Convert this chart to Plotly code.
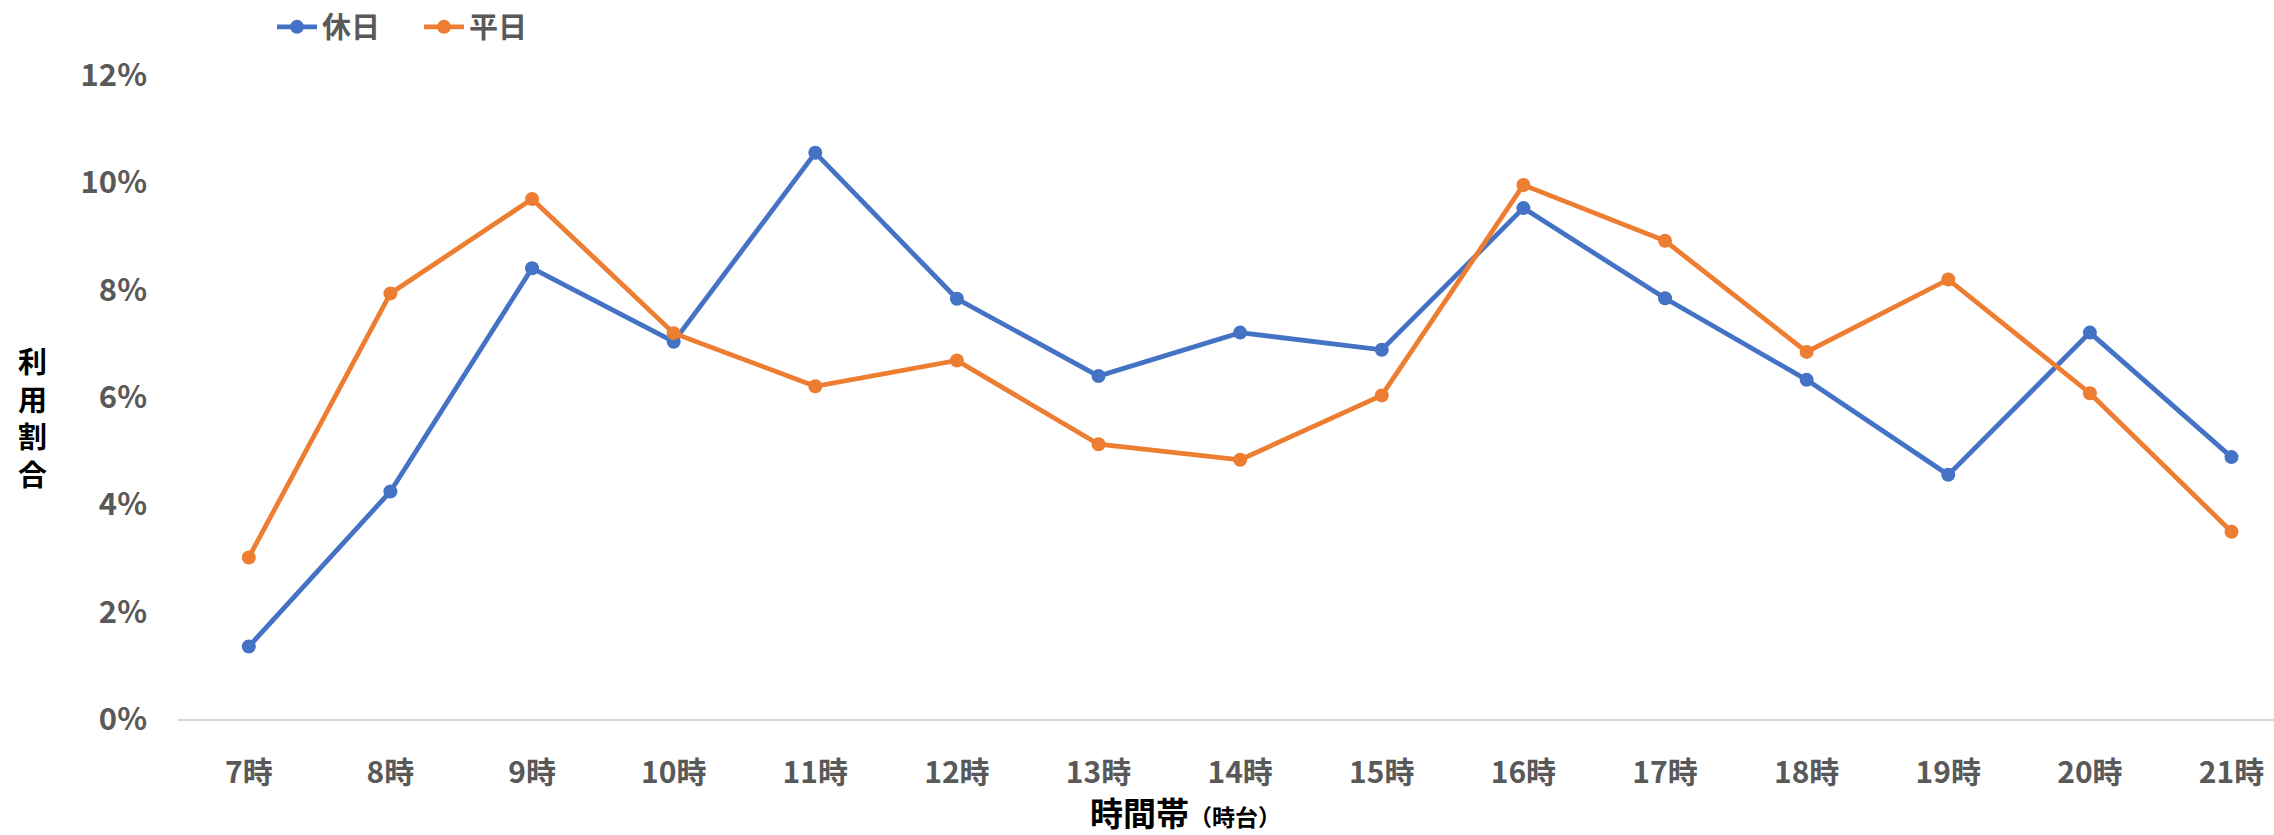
import plotly.graph_objects as go

# 時間帯ごとの利用割合（%）
hours = ["7時", "8時", "9時", "10時", "11時", "12時", "13時", "14時",
         "15時", "16時", "17時", "18時", "19時", "20時", "21時"]
holiday = [1.35, 4.24, 8.40, 7.03, 10.55, 7.83, 6.39, 7.20,
           6.88, 9.52, 7.84, 6.32, 4.55, 7.20, 4.88]
weekday = [3.01, 7.93, 9.69, 7.19, 6.20, 6.68, 5.12, 4.83,
           6.03, 9.95, 8.91, 6.84, 8.19, 6.07, 3.49]
y_ticks = [0, 2, 4, 6, 8, 10, 12]
y_ticklabels = ["0%", "2%", "4%", "6%", "8%", "10%", "12%"]

BLUE = "#4472C4"
ORANGE = "#ED7D31"
GRAY = "#595959"
FONT = "Noto Sans CJK JP"

fig = go.Figure()
for name, vals, color in [("休日", holiday, BLUE), ("平日", weekday, ORANGE)]:
    fig.add_trace(go.Scatter(
        x=hours, y=vals, name=name, mode="lines+markers",
        line=dict(color=color, width=4.8),
        marker=dict(color=color, size=14),
    ))

W, H = 2274, 835
ML, MR, MT, MB = 178, 0, 75, 116
PW, PH = W - ML - MR, H - MT - MB

fig.update_layout(
    width=W, height=H,
    margin=dict(l=ML, r=MR, t=MT, b=MB),
    plot_bgcolor="white", paper_bgcolor="white",
    font=dict(family=FONT, color=GRAY, size=28, weight="bold"),
    showlegend=True,
    legend=dict(
        orientation="h", x=(272 - ML) / PW, xanchor="left",
        y=1 + (MT - 27) / PH, yanchor="middle",
        font=dict(family=FONT, size=29, color=GRAY, weight="bold"),
        bgcolor="rgba(0,0,0,0)", itemwidth=40, tracegroupgap=0,
        entrywidth=92,
    ),
    xaxis=dict(
        type="category", range=[-0.5, 14.3],
        showgrid=False, zeroline=False,
        showline=True, linecolor="#D9D9D9", linewidth=2,
        ticks="", ticklabelstandoff=26,
        tickfont=dict(family=FONT, size=30, color=GRAY, weight="bold"),
    ),
    yaxis=dict(
        range=[0, 12], tickmode="array", tickvals=y_ticks, ticktext=y_ticklabels,
        showgrid=False, zeroline=False, showline=False,
        ticks="", ticklabelstandoff=30,
        tickfont=dict(family=FONT, size=31, color=GRAY, weight="bold"),
    ),
)

# 縦書きの軸タイトル
fig.add_annotation(
    text="<br>".join("利用割合"), xref="paper", yref="paper", showarrow=False,
    x=(32 - ML) / PW, xanchor="center",
    y=1 - (417 - MT) / PH, yanchor="middle",
    font=dict(family=FONT, size=29, color="black", weight="bold"),
)

# 横軸タイトル
fig.add_annotation(
    text="時間帯<span style='font-size:23px'>（時台）</span>",
    xref="paper", yref="paper", showarrow=False,
    x=(1185 - ML) / PW, xanchor="center",
    y=-(812 - (H - MB)) / PH, yanchor="middle",
    font=dict(family=FONT, size=33, color="black", weight="bold"),
)

fig.write_html("out.html")
